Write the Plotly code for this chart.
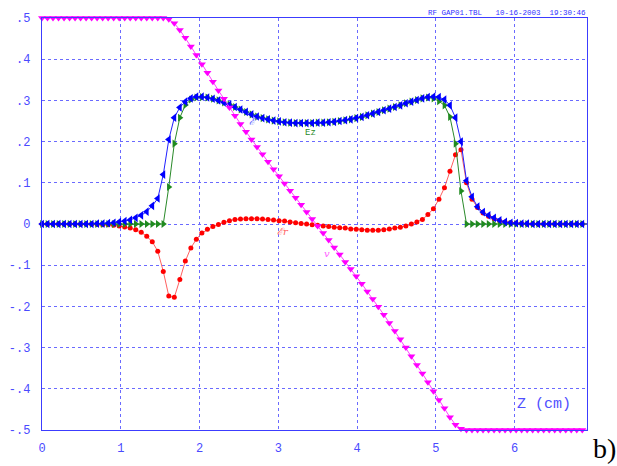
import plotly.graph_objects as go

# ---- data ----
Z_CM = [
    0.00, 0.07, 0.14, 0.21, 0.28, 0.35, 0.42, 0.49, 0.56, 0.63,
    0.70, 0.77, 0.84, 0.91, 0.98, 1.05, 1.12, 1.19, 1.26, 1.33,
    1.40, 1.47, 1.54, 1.61, 1.68, 1.75, 1.82, 1.89, 1.96, 2.03,
    2.10, 2.17, 2.24, 2.31, 2.38, 2.45, 2.52, 2.59, 2.66, 2.73,
    2.80, 2.87, 2.94, 3.01, 3.08, 3.15, 3.22, 3.29, 3.36, 3.43,
    3.50, 3.57, 3.64, 3.71, 3.78, 3.85, 3.92, 3.99, 4.06, 4.13,
    4.20, 4.27, 4.34, 4.41, 4.48, 4.55, 4.62, 4.69, 4.76, 4.83,
    4.90, 4.97, 5.04, 5.11, 5.18, 5.25, 5.32, 5.39, 5.46, 5.53,
    5.60, 5.67, 5.74, 5.81, 5.88, 5.95, 6.02, 6.09, 6.16, 6.23,
    6.30, 6.37, 6.44, 6.51, 6.58, 6.65, 6.72, 6.79, 6.86, 6.93,
]

E_TOTAL = [
    0, 0, 0, 0, 0, 0, 0, 0, 0, 0,
    0.001, 0.001, 0.002, 0.003, 0.005, 0.007, 0.010, 0.015, 0.021, 0.030,
    0.044, 0.062, 0.120, 0.205, 0.258, 0.283, 0.297, 0.305, 0.309, 0.309,
    0.307, 0.304, 0.300, 0.295, 0.290, 0.284, 0.278, 0.272, 0.266, 0.261,
    0.257, 0.254, 0.251, 0.249, 0.247, 0.246, 0.245, 0.245, 0.245, 0.245,
    0.246, 0.246, 0.247, 0.248, 0.250, 0.252, 0.254, 0.257, 0.260, 0.264,
    0.268, 0.272, 0.276, 0.280, 0.284, 0.288, 0.293, 0.297, 0.301, 0.305,
    0.308, 0.309, 0.308, 0.302, 0.288, 0.258, 0.200, 0.105, 0.066, 0.042,
    0.029, 0.021, 0.015, 0.009, 0.005, 0.003, 0.002, 0.001, 0.001, 0,
    0, 0, 0, 0, 0, 0, 0, 0, 0, 0,
]

E_Z = [
    0, 0, 0, 0, 0, 0, 0, 0, 0, 0,
    0, 0, 0, 0, 0, 0, 0, 0, 0, 0,
    0, 0, 0, 0.090, 0.195, 0.258, 0.289, 0.302, 0.307, 0.308,
    0.307, 0.304, 0.300, 0.295, 0.290, 0.284, 0.278, 0.272, 0.266, 0.261,
    0.257, 0.254, 0.251, 0.249, 0.247, 0.246, 0.245, 0.245, 0.245, 0.245,
    0.246, 0.246, 0.247, 0.248, 0.250, 0.252, 0.254, 0.257, 0.260, 0.264,
    0.268, 0.272, 0.276, 0.280, 0.284, 0.288, 0.293, 0.297, 0.301, 0.305,
    0.307, 0.305, 0.298, 0.288, 0.260, 0.195, 0.080, 0, 0, 0,
    0, 0, 0, 0, 0, 0, 0, 0, 0, 0,
    0, 0, 0, 0, 0, 0, 0, 0, 0, 0,
]

E_R = [
    0, 0, 0, 0, 0, 0, 0, 0, 0, 0,
    -0.001, -0.002, -0.002, -0.003, -0.005, -0.007, -0.010, -0.014, -0.020, -0.030,
    -0.043, -0.066, -0.115, -0.175, -0.178, -0.135, -0.090, -0.058, -0.037, -0.022,
    -0.013, -0.006, -0.001, 0.004, 0.008, 0.011, 0.012, 0.013, 0.013, 0.013,
    0.012, 0.011, 0.010, 0.008, 0.007, 0.005, 0.003, 0.001, 0.000, -0.002,
    -0.003, -0.005, -0.006, -0.008, -0.009, -0.010, -0.012, -0.013, -0.014, -0.015,
    -0.015, -0.015, -0.014, -0.012, -0.010, -0.008, -0.005, 0.000, 0.005, 0.011,
    0.023, 0.037, 0.060, 0.088, 0.128, 0.168, 0.180, 0.100, 0.060, 0.040,
    0.027, 0.019, 0.013, 0.008, 0.005, 0.003, 0.002, 0.001, 0, 0,
    0, 0, 0, 0, 0, 0, 0, 0, 0, 0,
]

V = [
    0.5, 0.5, 0.5, 0.5, 0.5, 0.5, 0.5, 0.5, 0.5, 0.5,
    0.5, 0.5, 0.5, 0.5, 0.5, 0.5, 0.5, 0.5, 0.5, 0.5,
    0.5, 0.5, 0.5, 0.497, 0.487, 0.471, 0.452, 0.431, 0.410, 0.388,
    0.367, 0.345, 0.324, 0.304, 0.283, 0.263, 0.243, 0.224, 0.205, 0.187,
    0.169, 0.151, 0.133, 0.116, 0.098, 0.081, 0.064, 0.047, 0.029, 0.012,
    -0.005, -0.022, -0.039, -0.057, -0.074, -0.092, -0.109, -0.127, -0.145, -0.164,
    -0.182, -0.201, -0.220, -0.240, -0.260, -0.280, -0.300, -0.321, -0.342, -0.363,
    -0.384, -0.406, -0.427, -0.447, -0.469, -0.487, -0.497, -0.5, -0.5, -0.5,
    -0.5, -0.5, -0.5, -0.5, -0.5, -0.5, -0.5, -0.5, -0.5, -0.5,
    -0.5, -0.5, -0.5, -0.5, -0.5, -0.5, -0.5, -0.5, -0.5, -0.5,
]

X_TICKS = [0, 1, 2, 3, 4, 5, 6]
X_TICK_TEXT = ["0", "1", "2", "3", "4", "5", "6"]
Y_TICKS = [0.5, 0.4, 0.3, 0.2, 0.1, 0.0, -0.1, -0.2, -0.3, -0.4, -0.5]
Y_TICK_TEXT = [".5", ".4", ".3", ".2", ".1", "0", "-.1", "-.2", "-.3", "-.4", "-.5"]

HEADER = "RF GAP01.TBL   10-16-2003  19:30:46"

# ---- styling ----
AXIS_BLUE = "#3c3cff"
GRID_BLUE = "#6a6aff"
MONO = "Liberation Mono"

fig = go.Figure()

fig.add_trace(go.Scatter(
    x=Z_CM, y=E_R, mode="lines+markers", name="Er",
    line=dict(color="#ff6060", width=1),
    marker=dict(symbol="circle", size=5, color="#ff0000", line=dict(width=0)),
    cliponaxis=False,
))
fig.add_trace(go.Scatter(
    x=Z_CM, y=E_Z, mode="lines+markers", name="Ez",
    line=dict(color="#2a8a2a", width=1),
    marker=dict(symbol="triangle-right", size=7, color="#1f8a1f", line=dict(width=0)),
    cliponaxis=False,
))
fig.add_trace(go.Scatter(
    x=Z_CM, y=E_TOTAL, mode="lines+markers", name="E",
    line=dict(color="#2020ff", width=1),
    marker=dict(symbol="triangle-left", size=7.5, color="#0000ff", line=dict(width=0)),
    cliponaxis=False,
))
fig.add_trace(go.Scatter(
    x=Z_CM, y=V, mode="lines+markers", name="V",
    line=dict(color="#ff40ff", width=1),
    marker=dict(symbol="triangle-down", size=7, color="#ff00ff", line=dict(width=0)),
    cliponaxis=False,
))

L, R, T, B = 42, 30, 18, 36
W, H = 617, 466
PW, PH = W - L - R, H - T - B


def px(xp, yp):
    return (xp - L) / PW, (H - B - yp) / PH


annots = []
hx, hy = px(588, 13)
annots.append(dict(x=hx, y=hy, xref="paper", yref="paper", text=HEADER,
                   xanchor="right", yanchor="middle", showarrow=False,
                   font=dict(family=MONO, size=7.5, color="#3030ff")))
annots.append(dict(x=6.38, y=-0.437, xref="x", yref="y", text="Z (cm)",
                   xanchor="center", yanchor="middle", showarrow=False,
                   font=dict(family=MONO, size=15, color="#5050ff")))
bx, by = px(605, 448)
annots.append(dict(x=bx, y=by, xref="paper", yref="paper", text="b)",
                   xanchor="center", yanchor="middle", showarrow=False,
                   font=dict(family="Liberation Serif", size=28, color="#000000")))
annots.append(dict(x=2.68, y=0.248, xref="x", yref="y", text="<i>ℰ</i>",
                   showarrow=False, font=dict(family="DejaVu Serif", size=10, color="#6060ff")))
annots.append(dict(x=3.41, y=0.222, xref="x", yref="y", text="Ez",
                   showarrow=False, font=dict(family=MONO, size=9, color="#2a8a2a")))
annots.append(dict(x=3.06, y=-0.019, xref="x", yref="y", text="<i>ℰr</i>",
                   showarrow=False, font=dict(family="DejaVu Serif", size=10, color="#ff6060")))
annots.append(dict(x=3.62, y=-0.071, xref="x", yref="y", text="<i>v</i>",
                   showarrow=False, font=dict(family="DejaVu Serif", size=10, color="#ff60ff")))

fig.update_layout(
    width=W, height=H, autosize=False,
    margin=dict(l=L, r=R, t=T, b=B, pad=0),
    paper_bgcolor="white", plot_bgcolor="white",
    showlegend=False,
    annotations=annots,
    xaxis=dict(
        range=[0, 6.92], tickvals=X_TICKS, ticktext=X_TICK_TEXT, automargin=False,
        showgrid=True, gridcolor=GRID_BLUE, griddash="dot", gridwidth=1,
        zeroline=False, showline=True, linecolor=AXIS_BLUE, linewidth=1.3, mirror=True,
        ticks="", ticklabelstandoff=6,
        tickfont=dict(family=MONO, size=12, color="#4a4aff"),
    ),
    yaxis=dict(
        range=[-0.5, 0.5], tickvals=Y_TICKS, ticktext=Y_TICK_TEXT, automargin=False,
        showgrid=True, gridcolor=GRID_BLUE, griddash="dot", gridwidth=1,
        zeroline=False, showline=True, linecolor=AXIS_BLUE, linewidth=1.3, mirror=True,
        ticks="", ticklabelstandoff=8,
        tickfont=dict(family=MONO, size=12, color="#4a4aff"),
    ),
)

fig.write_html("out.html")
